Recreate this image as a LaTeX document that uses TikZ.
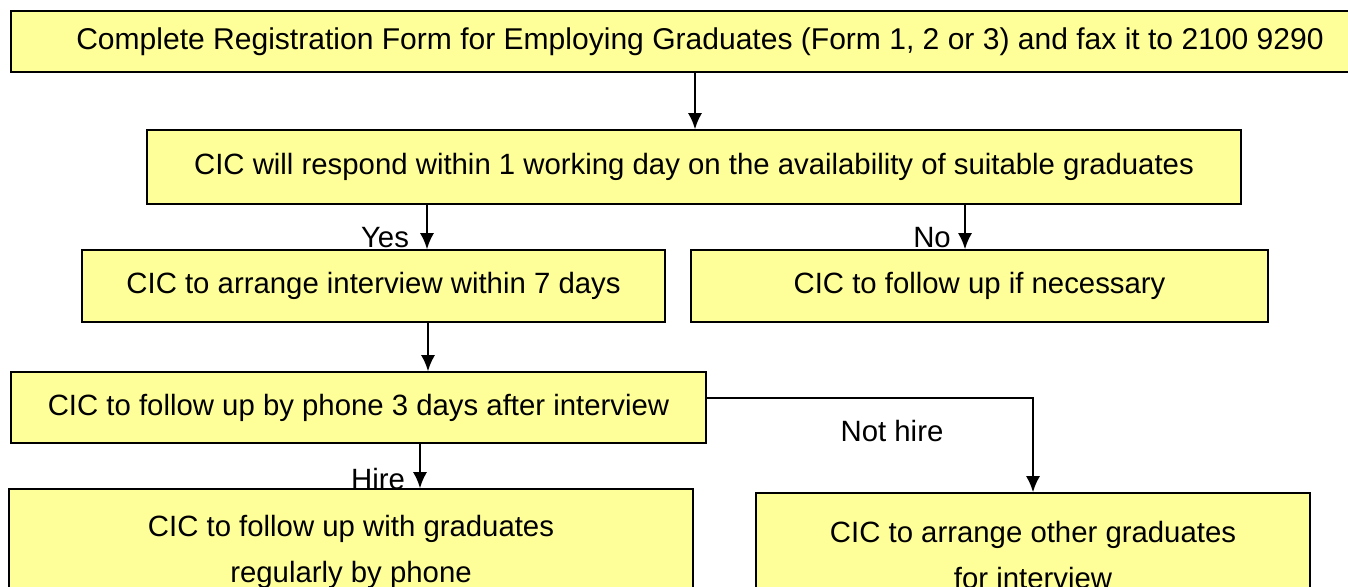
\documentclass[tikz,border=0pt]{standalone}
\usepackage{fontspec}
\setmainfont{Liberation Sans}
\usetikzlibrary{arrows.meta}
\definecolor{boxyellow}{RGB}{255,255,153}
\begin{document}
\begin{tikzpicture}[x=0.02cm, y=-0.02cm, >={Latex[length=0.32cm,width=0.28cm]},
  stage/.style={draw, line width=0.9pt, fill=boxyellow, inner sep=0pt, align=center,
    font=\fontsize{16.7}{26}\selectfont},
  flow/.style={->, line width=1.1pt},
  answer/.style={font=\fontsize{16.7}{19}\selectfont}]
\useasboundingbox (0,0) rectangle (1348,587);
\clip (0,0) rectangle (1348,587);
\node[stage, font=\fontsize{17.1}{20}\selectfont, minimum width=1378*0.02cm, minimum height=61*0.02cm] (form) at (700,41.5)
  {Complete Registration Form for Employing Graduates (Form 1, 2 or 3) and fax it to 2100 9290};
\node[stage, minimum width=1094*0.02cm, minimum height=74*0.02cm] (reply) at (694,167)
  {CIC will respond within 1 working day on the availability of suitable graduates};
\node[stage, minimum width=583*0.02cm, minimum height=72*0.02cm] (arrange) at (373.5,286)
  {CIC to arrange interview within 7 days};
\node[stage, minimum width=577*0.02cm, minimum height=72*0.02cm] (followup) at (979.5,286)
  {CIC to follow up if necessary};
\node[stage, minimum width=695*0.02cm, minimum height=71*0.02cm] (phone) at (358.5,407.5)
  {CIC to follow up by phone 3 days after interview};
\node[stage, minimum width=684*0.02cm, minimum height=126*0.02cm] (regular) at (351,552)
  {CIC to follow up with graduates\\regularly by phone};
\node[stage, minimum width=554*0.02cm, minimum height=124*0.02cm] (other) at (1033,555)
  {CIC to arrange other graduates\\for interview};

\draw[flow] (form.south -| 695,0) -- (reply.north -| 695,0);
\draw[flow] (reply.south -| 427,0) -- (arrange.north -| 427,0);
\draw[flow] (reply.south -| 965,0) -- (followup.north -| 965,0);
\draw[flow] (arrange.south -| 428,0) -- (phone.north -| 428,0);
\draw[flow] (phone.south -| 420,0) -- (regular.north -| 420,0);
\draw[flow] (phone.east |- 0,398) -| (other.north);

\node[answer] (yes) at (385,238) {Yes};
\node[answer] (no) at (932,238) {No};
\node[answer] (hire) at (378,479) {Hire};
\node[answer] (nothire) at (892,431) {Not hire};
\end{tikzpicture}
\end{document}
